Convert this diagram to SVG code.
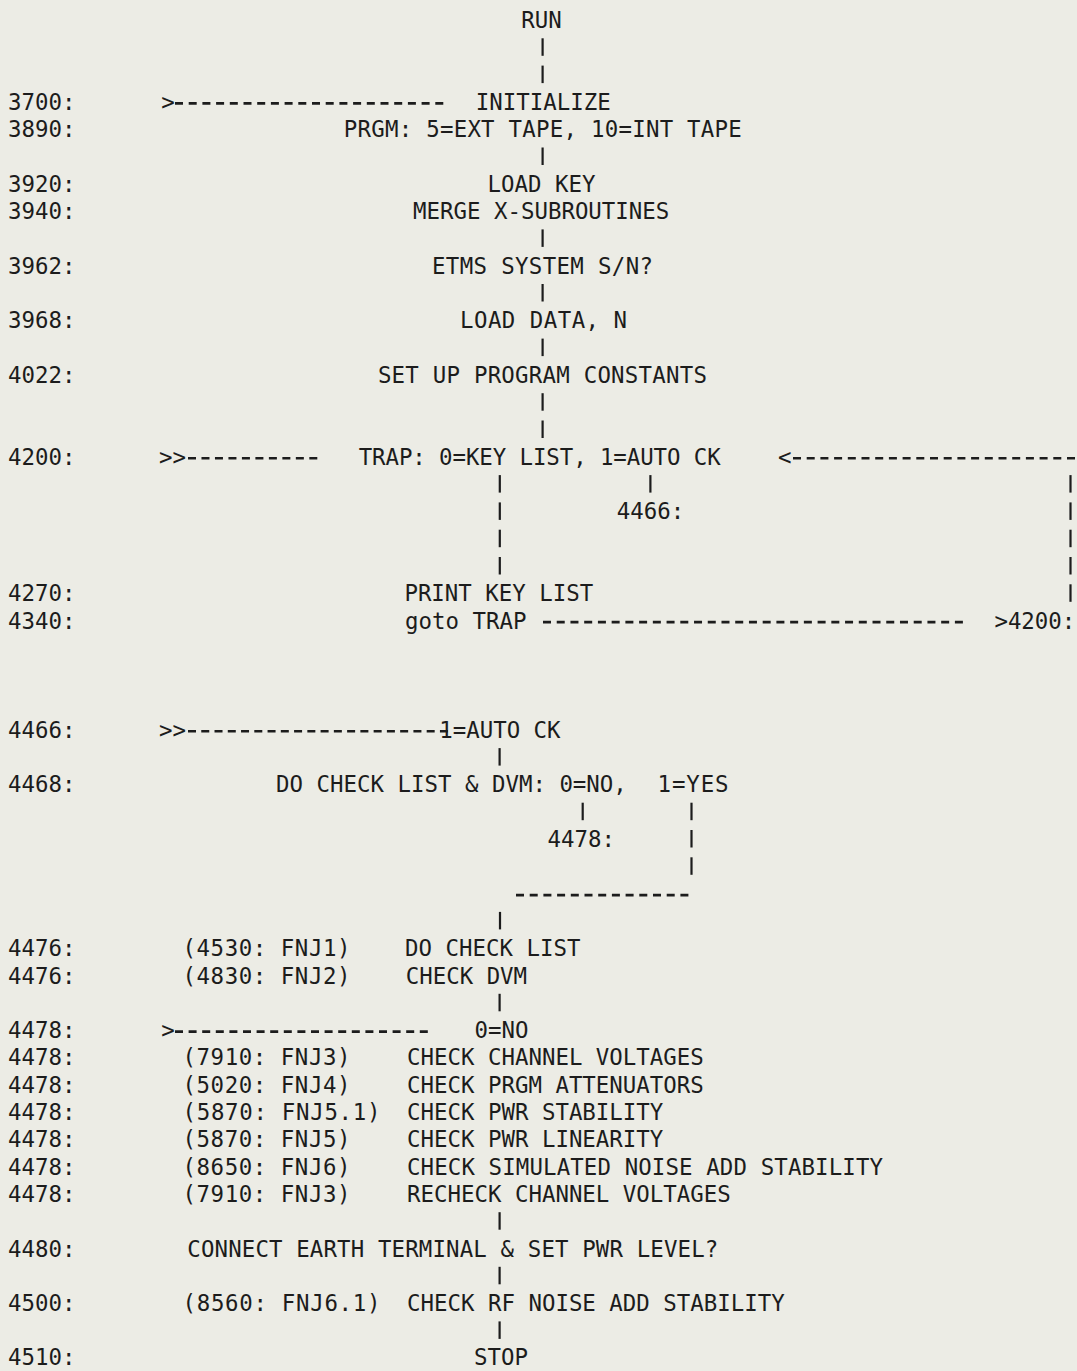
<svg xmlns="http://www.w3.org/2000/svg" width="1077" height="1371" viewBox="0 0 1077 1371">
<style>
.t{font-family:"DejaVu Sans Mono","Liberation Mono",monospace;font-size:22.42px;fill:#1c1c1c}
.b{stroke:#1c1c1c;stroke-width:2.2;fill:none}
.d{stroke:#1c1c1c;stroke-width:2.6;fill:none}
</style>
<rect width="1077" height="1371" fill="#ecece5"/>
<g id="connectors">
<g class="b">
<line x1="542.6" y1="38.3" x2="542.6" y2="55.8"/>
<line x1="542.6" y1="65.6" x2="542.6" y2="83.1"/>
<line x1="542.6" y1="147.5" x2="542.6" y2="165"/>
<line x1="542.6" y1="229.4" x2="542.6" y2="246.9"/>
<line x1="542.6" y1="284" x2="542.6" y2="301.5"/>
<line x1="542.6" y1="338.6" x2="542.6" y2="356.1"/>
<line x1="542.6" y1="393.2" x2="542.6" y2="410.7"/>
<line x1="542.6" y1="420.5" x2="542.6" y2="438"/>
<line x1="499.8" y1="475.1" x2="499.8" y2="492.6"/>
<line x1="499.8" y1="502.4" x2="499.8" y2="519.9"/>
<line x1="499.8" y1="529.7" x2="499.8" y2="547.2"/>
<line x1="499.8" y1="557" x2="499.8" y2="574.5"/>
<line x1="650.4" y1="475.1" x2="650.4" y2="492.6"/>
<line x1="1070.5" y1="475.1" x2="1070.5" y2="492.6"/>
<line x1="1070.5" y1="502.4" x2="1070.5" y2="519.9"/>
<line x1="1070.5" y1="529.7" x2="1070.5" y2="547.2"/>
<line x1="1070.5" y1="557" x2="1070.5" y2="574.5"/>
<line x1="1070.5" y1="584.3" x2="1070.5" y2="601.8"/>
<line x1="499.6" y1="748.1" x2="499.6" y2="765.6"/>
<line x1="582.7" y1="802.7" x2="582.7" y2="820.2"/>
<line x1="691.5" y1="802.7" x2="691.5" y2="820.2"/>
<line x1="691.5" y1="830" x2="691.5" y2="847.5"/>
<line x1="691.5" y1="857.3" x2="691.5" y2="874.8"/>
<line x1="500" y1="911.9" x2="500" y2="929.4"/>
<line x1="499.6" y1="993.8" x2="499.6" y2="1011.3"/>
<line x1="499.6" y1="1212.2" x2="499.6" y2="1229.7"/>
<line x1="499.6" y1="1266.8" x2="499.6" y2="1284.3"/>
<line x1="499.6" y1="1321.4" x2="499.6" y2="1338.9"/>
</g>
<g class="d">
<line x1="175" y1="103.4" x2="443.3" y2="103.4" stroke-dasharray="8 5.7"/>
<line x1="188" y1="458.3" x2="317.3" y2="458.3" stroke-dasharray="8 5.48"/>
<line x1="793" y1="458.3" x2="1075" y2="458.3" stroke-dasharray="8 5.7"/>
<line x1="543" y1="622.1" x2="962.9" y2="622.1" stroke-dasharray="8 5.73"/>
<line x1="188" y1="731.3" x2="447.9" y2="731.3" stroke-dasharray="8 5.26"/>
<line x1="516" y1="895.1" x2="688.4" y2="895.1" stroke-dasharray="8 5.7"/>
<line x1="175" y1="1031.6" x2="427.8" y2="1031.6" stroke-dasharray="8 5.6"/>
</g>
<text class="t" x="161.2" y="109.9">&gt;</text>
<text class="t" x="159" y="464.8">&gt;&gt;</text>
<text class="t" x="778" y="464.8">&lt;</text>
<text class="t" x="159" y="737.8">&gt;&gt;</text>
<text class="t" x="161.2" y="1038.1">&gt;</text>
</g>
<g id="n-run"><text class="t" x="521.2" y="28">RUN</text></g>
<g id="n-3700"><text class="t" x="8" y="109.9">3700:</text><text class="t" x="475.8" y="109.9">INITIALIZE</text></g>
<g id="n-3890"><text class="t" x="8" y="137.2">3890:</text><text class="t" x="343.8" y="137.2" textLength="398" lengthAdjust="spacing">PRGM: 5=EXT TAPE, 10=INT TAPE</text></g>
<g id="n-3920"><text class="t" x="8" y="191.8">3920:</text><text class="t" x="487.5" y="191.8">LOAD KEY</text></g>
<g id="n-3940"><text class="t" x="8" y="219.1">3940:</text><text class="t" x="413" y="219.1">MERGE X-SUBROUTINES</text></g>
<g id="n-3962"><text class="t" x="8" y="273.7">3962:</text><text class="t" x="432" y="273.7" textLength="221" lengthAdjust="spacing">ETMS SYSTEM S/N?</text></g>
<g id="n-3968"><text class="t" x="8" y="328.3">3968:</text><text class="t" x="460" y="328.3" textLength="167" lengthAdjust="spacing">LOAD DATA, N</text></g>
<g id="n-4022"><text class="t" x="8" y="382.9">4022:</text><text class="t" x="377.9" y="382.9" textLength="329" lengthAdjust="spacing">SET UP PROGRAM CONSTANTS</text></g>
<g id="n-4200"><text class="t" x="8" y="464.8">4200:</text><text class="t" x="358.7" y="464.8" textLength="362" lengthAdjust="spacing">TRAP: 0=KEY LIST, 1=AUTO CK</text></g>
<g id="n-4466-ref"><text class="t" x="616.8" y="519.4">4466:</text></g>
<g id="n-4270"><text class="t" x="8" y="601.3">4270:</text><text class="t" x="404.4" y="601.3">PRINT KEY LIST</text></g>
<g id="n-4340"><text class="t" x="8" y="628.6">4340:</text><text class="t" x="405" y="628.6">goto TRAP</text></g>
<g id="n-4200-ref"><text class="t" x="994.4" y="628.6">&gt;4200:</text></g>
<g id="n-4466"><text class="t" x="8" y="737.8">4466:</text><text class="t" x="439.2" y="737.8">1=AUTO CK</text></g>
<g id="n-4468"><text class="t" x="8" y="792.4">4468:</text><text class="t" x="276.1" y="792.4">DO CHECK LIST &amp; DVM: 0=NO,</text><text class="t" x="657.5" y="792.4" textLength="71" lengthAdjust="spacing">1=YES</text></g>
<g id="n-4478-ref"><text class="t" x="547.5" y="847">4478:</text></g>
<g id="n-4476a"><text class="t" x="8" y="956.2">4476:</text><text class="t" x="182.5" y="956.2" textLength="168" lengthAdjust="spacing">(4530: FNJ1)</text><text class="t" x="405.1" y="956.2">DO CHECK LIST</text></g>
<g id="n-4476b"><text class="t" x="8" y="983.5">4476:</text><text class="t" x="182.5" y="983.5" textLength="168" lengthAdjust="spacing">(4830: FNJ2)</text><text class="t" x="405.7" y="983.5">CHECK DVM</text></g>
<g id="n-4478"><text class="t" x="8" y="1038.1">4478:</text><text class="t" x="474.5" y="1038.1">0=NO</text></g>
<g id="n-4478-1"><text class="t" x="8" y="1065.4">4478:</text><text class="t" x="182.5" y="1065.4" textLength="168" lengthAdjust="spacing">(7910: FNJ3)</text><text class="t" x="407" y="1065.4">CHECK CHANNEL VOLTAGES</text></g>
<g id="n-4478-2"><text class="t" x="8" y="1092.7">4478:</text><text class="t" x="182.5" y="1092.7" textLength="168" lengthAdjust="spacing">(5020: FNJ4)</text><text class="t" x="407" y="1092.7">CHECK PRGM ATTENUATORS</text></g>
<g id="n-4478-3"><text class="t" x="8" y="1120">4478:</text><text class="t" x="182.5" y="1120" textLength="198" lengthAdjust="spacing">(5870: FNJ5.1)</text><text class="t" x="407" y="1120">CHECK PWR STABILITY</text></g>
<g id="n-4478-4"><text class="t" x="8" y="1147.3">4478:</text><text class="t" x="182.5" y="1147.3" textLength="168" lengthAdjust="spacing">(5870: FNJ5)</text><text class="t" x="407" y="1147.3">CHECK PWR LINEARITY</text></g>
<g id="n-4478-5"><text class="t" x="8" y="1174.6">4478:</text><text class="t" x="182.5" y="1174.6" textLength="168" lengthAdjust="spacing">(8650: FNJ6)</text><text class="t" x="407" y="1174.6" textLength="476" lengthAdjust="spacing">CHECK SIMULATED NOISE ADD STABILITY</text></g>
<g id="n-4478-6"><text class="t" x="8" y="1201.9">4478:</text><text class="t" x="182.5" y="1201.9" textLength="168" lengthAdjust="spacing">(7910: FNJ3)</text><text class="t" x="407" y="1201.9">RECHECK CHANNEL VOLTAGES</text></g>
<g id="n-4480"><text class="t" x="8" y="1256.5">4480:</text><text class="t" x="187.3" y="1256.5" textLength="531" lengthAdjust="spacing">CONNECT EARTH TERMINAL &amp; SET PWR LEVEL?</text></g>
<g id="n-4500"><text class="t" x="8" y="1311.1">4500:</text><text class="t" x="182.5" y="1311.1" textLength="198" lengthAdjust="spacing">(8560: FNJ6.1)</text><text class="t" x="407" y="1311.1">CHECK RF NOISE ADD STABILITY</text></g>
<g id="n-4510"><text class="t" x="8" y="1365">4510:</text><text class="t" x="474.1" y="1365">STOP</text></g>
</svg>
